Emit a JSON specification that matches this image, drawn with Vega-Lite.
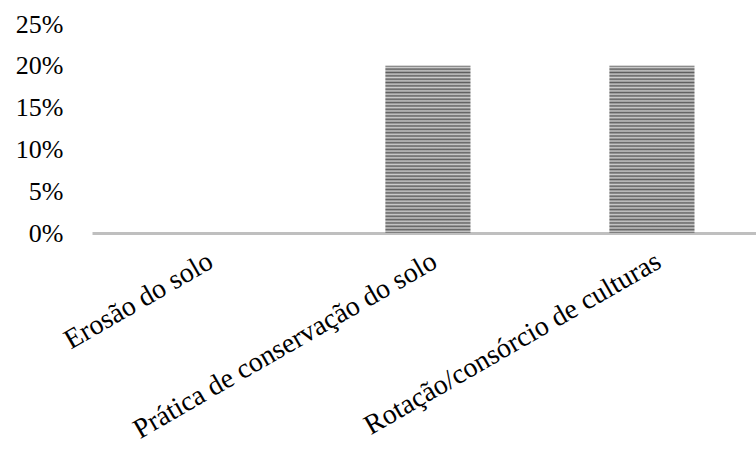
{
  "$schema": "https://vega.github.io/schema/vega-lite/v6.json",
  "width": 664,
  "height": 209,
  "autosize": {"type": "none"},
  "padding": {"left": 92, "top": 24, "right": 0, "bottom": 219},
  "background": "white",
  "config": {
    "view": {"stroke": null},
    "axis": {"labelFont": "Liberation Serif", "labelFontSize": 26, "labelColor": "#000000", "grid": false, "ticks": false}
  },
  "data": {"values": [
    {"categoria": "Erosão do solo", "valor": 0},
    {"categoria": "Prática de conservação do solo", "valor": 0.2},
    {"categoria": "Rotação/consórcio de culturas", "valor": 0.2}
  ]},
  "mark": {
    "type": "bar",
    "fill": {
      "gradient": "linear", "x1": 0, "y1": 0, "x2": 0, "y2": 1,
      "stops": [
        {"offset": 0.00, "color": "#5e5e5e"}, {"offset": 0.01, "color": "#cccccc"},
        {"offset": 0.02, "color": "#5e5e5e"}, {"offset": 0.03, "color": "#cccccc"},
        {"offset": 0.04, "color": "#5e5e5e"}, {"offset": 0.05, "color": "#cccccc"},
        {"offset": 0.06, "color": "#5e5e5e"}, {"offset": 0.07, "color": "#cccccc"},
        {"offset": 0.08, "color": "#5e5e5e"}, {"offset": 0.09, "color": "#cccccc"},
        {"offset": 0.10, "color": "#5e5e5e"}, {"offset": 0.11, "color": "#cccccc"},
        {"offset": 0.12, "color": "#5e5e5e"}, {"offset": 0.13, "color": "#cccccc"},
        {"offset": 0.14, "color": "#5e5e5e"}, {"offset": 0.15, "color": "#cccccc"},
        {"offset": 0.16, "color": "#5e5e5e"}, {"offset": 0.17, "color": "#cccccc"},
        {"offset": 0.18, "color": "#5e5e5e"}, {"offset": 0.19, "color": "#cccccc"},
        {"offset": 0.20, "color": "#5e5e5e"}, {"offset": 0.21, "color": "#cccccc"},
        {"offset": 0.22, "color": "#5e5e5e"}, {"offset": 0.23, "color": "#cccccc"},
        {"offset": 0.24, "color": "#5e5e5e"}, {"offset": 0.25, "color": "#cccccc"},
        {"offset": 0.26, "color": "#5e5e5e"}, {"offset": 0.27, "color": "#cccccc"},
        {"offset": 0.28, "color": "#5e5e5e"}, {"offset": 0.29, "color": "#cccccc"},
        {"offset": 0.30, "color": "#5e5e5e"}, {"offset": 0.31, "color": "#cccccc"},
        {"offset": 0.32, "color": "#5e5e5e"}, {"offset": 0.33, "color": "#cccccc"},
        {"offset": 0.34, "color": "#5e5e5e"}, {"offset": 0.35, "color": "#cccccc"},
        {"offset": 0.36, "color": "#5e5e5e"}, {"offset": 0.37, "color": "#cccccc"},
        {"offset": 0.38, "color": "#5e5e5e"}, {"offset": 0.39, "color": "#cccccc"},
        {"offset": 0.40, "color": "#5e5e5e"}, {"offset": 0.41, "color": "#cccccc"},
        {"offset": 0.42, "color": "#5e5e5e"}, {"offset": 0.43, "color": "#cccccc"},
        {"offset": 0.44, "color": "#5e5e5e"}, {"offset": 0.45, "color": "#cccccc"},
        {"offset": 0.46, "color": "#5e5e5e"}, {"offset": 0.47, "color": "#cccccc"},
        {"offset": 0.48, "color": "#5e5e5e"}, {"offset": 0.49, "color": "#cccccc"},
        {"offset": 0.50, "color": "#5e5e5e"}, {"offset": 0.51, "color": "#cccccc"},
        {"offset": 0.52, "color": "#5e5e5e"}, {"offset": 0.53, "color": "#cccccc"},
        {"offset": 0.54, "color": "#5e5e5e"}, {"offset": 0.55, "color": "#cccccc"},
        {"offset": 0.56, "color": "#5e5e5e"}, {"offset": 0.57, "color": "#cccccc"},
        {"offset": 0.58, "color": "#5e5e5e"}, {"offset": 0.59, "color": "#cccccc"},
        {"offset": 0.60, "color": "#5e5e5e"}, {"offset": 0.61, "color": "#cccccc"},
        {"offset": 0.62, "color": "#5e5e5e"}, {"offset": 0.63, "color": "#cccccc"},
        {"offset": 0.64, "color": "#5e5e5e"}, {"offset": 0.65, "color": "#cccccc"},
        {"offset": 0.66, "color": "#5e5e5e"}, {"offset": 0.67, "color": "#cccccc"},
        {"offset": 0.68, "color": "#5e5e5e"}, {"offset": 0.69, "color": "#cccccc"},
        {"offset": 0.70, "color": "#5e5e5e"}, {"offset": 0.71, "color": "#cccccc"},
        {"offset": 0.72, "color": "#5e5e5e"}, {"offset": 0.73, "color": "#cccccc"},
        {"offset": 0.74, "color": "#5e5e5e"}, {"offset": 0.75, "color": "#cccccc"},
        {"offset": 0.76, "color": "#5e5e5e"}, {"offset": 0.77, "color": "#cccccc"},
        {"offset": 0.78, "color": "#5e5e5e"}, {"offset": 0.79, "color": "#cccccc"},
        {"offset": 0.80, "color": "#5e5e5e"}, {"offset": 0.81, "color": "#cccccc"},
        {"offset": 0.82, "color": "#5e5e5e"}, {"offset": 0.83, "color": "#cccccc"},
        {"offset": 0.84, "color": "#5e5e5e"}, {"offset": 0.85, "color": "#cccccc"},
        {"offset": 0.86, "color": "#5e5e5e"}, {"offset": 0.87, "color": "#cccccc"},
        {"offset": 0.88, "color": "#5e5e5e"}, {"offset": 0.89, "color": "#cccccc"},
        {"offset": 0.90, "color": "#5e5e5e"}, {"offset": 0.91, "color": "#cccccc"},
        {"offset": 0.92, "color": "#5e5e5e"}, {"offset": 0.93, "color": "#cccccc"},
        {"offset": 0.94, "color": "#5e5e5e"}, {"offset": 0.95, "color": "#cccccc"},
        {"offset": 0.96, "color": "#5e5e5e"}, {"offset": 0.97, "color": "#cccccc"},
        {"offset": 0.98, "color": "#5e5e5e"}, {"offset": 0.99, "color": "#cccccc"},
        {"offset": 1.00, "color": "#5e5e5e"}
      ]
    }
  },
  "encoding": {
    "x": {
      "field": "categoria", "type": "nominal", "sort": null,
      "scale": {"paddingInner": 0.62, "paddingOuter": 0.292, "align": 0.53},
      "axis": {"title": null, "labelAngle": -30, "labelAlign": "right", "labelBaseline": "top", "labelPadding": 14, "labelFontSize": 28, "labelLimit": 600, "labelOverlap": false, "domainColor": "#bfbfbf", "domainWidth": 3}
    },
    "y": {
      "field": "valor", "type": "quantitative",
      "scale": {"domain": [0, 0.25], "nice": false},
      "axis": {"title": null, "format": ".0%", "values": [0, 0.05, 0.1, 0.15, 0.2, 0.25], "domain": false, "labelPadding": 29}
    }
  }
}
